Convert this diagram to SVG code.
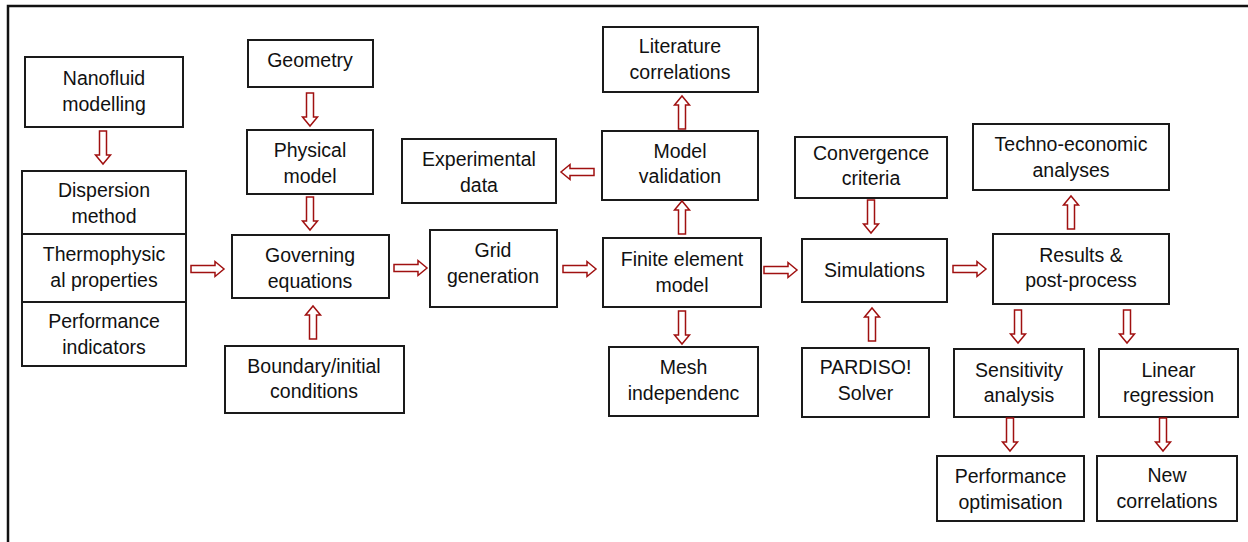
<svg xmlns="http://www.w3.org/2000/svg" width="1248" height="542" viewBox="0 0 1248 542">
<style>
.box{fill:#fff;stroke:#1a1a1a;stroke-width:2}
text{font-family:"Liberation Sans",Arial,sans-serif;font-size:19.5px;fill:#111;text-anchor:middle}
.arr{fill:#fff;stroke:#a01010;stroke-width:1.5;stroke-linejoin:miter}
</style>
<defs>
<path id="arrow" class="arr" d="M0,-3.5 H24 V-7.5 L33,0 L24,7.5 V3.5 H0 Z"/>
</defs>
<rect width="1248" height="542" fill="#fff"/>
<path d="M8,542 V6 H1248" fill="none" stroke="#111" stroke-width="2.5"/>

<g id="nanofluid"><rect class="box" x="25" y="57" width="158" height="70"/><text x="104" y="85">Nanofluid</text><text x="104" y="111">modelling</text></g>
<g id="dispersion"><rect class="box" x="22" y="171" width="164" height="63"/><text x="104" y="197">Dispersion</text><text x="104" y="223">method</text></g>
<g id="thermo"><rect class="box" x="22" y="234" width="164" height="68"/><text x="104" y="261">Thermophysic</text><text x="104" y="287">al properties</text></g>
<g id="perfind"><rect class="box" x="22" y="302" width="164" height="64"/><text x="104" y="328">Performance</text><text x="104" y="354">indicators</text></g>
<g id="geometry"><rect class="box" x="248" y="40" width="125" height="47"/><text x="310" y="67">Geometry</text></g>
<g id="physical"><rect class="box" x="247" y="130" width="126" height="64"/><text x="310" y="157">Physical</text><text x="310" y="183">model</text></g>
<g id="governing"><rect class="box" x="232" y="235" width="157" height="63"/><text x="310" y="262">Governing</text><text x="310" y="288">equations</text></g>
<g id="boundary"><rect class="box" x="225" y="346" width="179" height="67"/><text x="314" y="373">Boundary/initial</text><text x="314" y="398">conditions</text></g>
<g id="grid"><rect class="box" x="430" y="230" width="127" height="77"/><text x="493" y="257">Grid</text><text x="493" y="283">generation</text></g>
<g id="experimental"><rect class="box" x="402" y="139" width="154" height="64"/><text x="479" y="166">Experimental</text><text x="479" y="192">data</text></g>
<g id="literature"><rect class="box" x="603" y="27" width="155" height="65"/><text x="680" y="53">Literature</text><text x="680" y="79">correlations</text></g>
<g id="validation"><rect class="box" x="602" y="131" width="156" height="69"/><text x="680" y="158">Model</text><text x="680" y="183">validation</text></g>
<g id="fem"><rect class="box" x="603" y="238" width="158" height="69"/><text x="682" y="266">Finite element</text><text x="682" y="292">model</text></g>
<g id="mesh"><rect class="box" x="609" y="347" width="149" height="69"/><text x="683.5" y="374">Mesh</text><text x="683.5" y="400">independenc</text></g>
<g id="convergence"><rect class="box" x="795" y="137" width="152" height="61"/><text x="871" y="160">Convergence</text><text x="871" y="185">criteria</text></g>
<g id="simulations"><rect class="box" x="802" y="239" width="145" height="63"/><text x="874.5" y="277">Simulations</text></g>
<g id="pardiso"><rect class="box" x="802" y="348" width="127" height="69"/><text x="865.5" y="374">PARDISO!</text><text x="865.5" y="400">Solver</text></g>
<g id="techno"><rect class="box" x="973" y="124" width="196" height="66"/><text x="1071" y="151">Techno-economic</text><text x="1071" y="177">analyses</text></g>
<g id="results"><rect class="box" x="993" y="234" width="176" height="70"/><text x="1081" y="262">Results &amp;</text><text x="1081" y="287">post-process</text></g>
<g id="sensitivity"><rect class="box" x="954" y="349" width="130" height="68"/><text x="1019" y="377">Sensitivity</text><text x="1019" y="402">analysis</text></g>
<g id="linear"><rect class="box" x="1099" y="349" width="139" height="68"/><text x="1168.5" y="377">Linear</text><text x="1168.5" y="402">regression</text></g>
<g id="perfopt"><rect class="box" x="937" y="456" width="147" height="65"/><text x="1010.5" y="483">Performance</text><text x="1010.5" y="509">optimisation</text></g>
<g id="newcorr"><rect class="box" x="1097" y="456" width="140" height="65"/><text x="1167" y="482">New</text><text x="1167" y="508">correlations</text></g>

<g id="connectors">
<use href="#arrow" transform="translate(103,131) rotate(90)"/>
<use href="#arrow" transform="translate(310,93) rotate(90)"/>
<use href="#arrow" transform="translate(310,197) rotate(90)"/>
<use href="#arrow" transform="translate(313,339) rotate(-90)"/>
<use href="#arrow" transform="translate(191,269)"/>
<use href="#arrow" transform="translate(394,268)"/>
<use href="#arrow" transform="translate(563,269)"/>
<use href="#arrow" transform="translate(682,234) rotate(-90)"/>
<use href="#arrow" transform="translate(682,129) rotate(-90)"/>
<use href="#arrow" transform="translate(594,172) rotate(180)"/>
<use href="#arrow" transform="translate(682,311) rotate(90)"/>
<use href="#arrow" transform="translate(764,270)"/>
<use href="#arrow" transform="translate(871,200) rotate(90)"/>
<use href="#arrow" transform="translate(872,341) rotate(-90)"/>
<use href="#arrow" transform="translate(953,269)"/>
<use href="#arrow" transform="translate(1071,229) rotate(-90)"/>
<use href="#arrow" transform="translate(1018,310) rotate(90)"/>
<use href="#arrow" transform="translate(1127,310) rotate(90)"/>
<use href="#arrow" transform="translate(1010,418) rotate(90)"/>
<use href="#arrow" transform="translate(1163,418) rotate(90)"/>
</g>
</svg>
